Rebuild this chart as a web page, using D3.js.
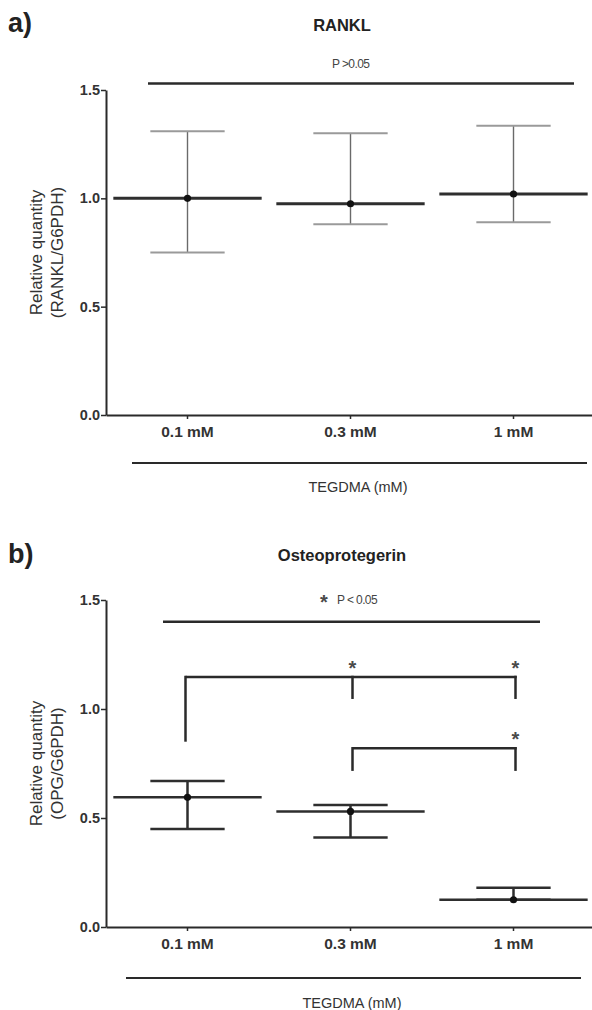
<!DOCTYPE html>
<html>
<head>
<meta charset="utf-8">
<script src="https://cdn.jsdelivr.net/npm/d3@7"></script>
<style>
  html, body { margin: 0; padding: 0; background: #fff; }
  svg { display: block; }
  text { font-family: "Liberation Sans", Arial, Helvetica, sans-serif; }
</style>
</head>
<body>
<svg id="chart" width="592" height="1010"></svg>
<script>
// ---------- data ----------
const categories = ["0.1 mM", "0.3 mM", "1 mM"];
const yTicks = [0.0, 0.5, 1.0, 1.5];

const ranklMean  = [1.00, 0.975, 1.02];
const ranklUpper = [1.31, 1.30, 1.335];
const ranklLower = [0.75, 0.88, 0.89];

const opgMean  = [0.595, 0.53, 0.125];
const opgUpper = [0.67, 0.56, 0.18];
const opgLower = [0.45, 0.41, 0.125];

// significance annotations for OPG (category indices, values in y units)
const opgBrackets = [
  { from: 0, to: 2, y: 1.147, legs: [[0, 0.85], [1, 1.046], [2, 1.046]], stars: [1, 2] },
  { from: 1, to: 2, y: 0.82,  legs: [[1, 0.716], [2, 0.716]], stars: [2] }
];

// ---------- drawing ----------
const svg = d3.select("#chart");
const FONT = '"Liberation Sans", Arial, Helvetica, sans-serif';

function star(g, x, yc) {
  g.append("text").attr("x", x).attr("y", yc + 10).attr("text-anchor", "middle")
    .attr("font-size", 20).attr("font-weight", "bold").attr("fill", "#4a4a4a").text("*");
}

function drawPanel(cfg) {
  const g = svg.append("g");
  const x = d3.scaleBand().domain(categories).range([106, 595]).padding(0);
  const y = d3.scaleLinear().domain([0, 1.5]).range([cfg.bottom, cfg.top]);
  const cx = i => x(categories[i]) + x.bandwidth() / 2;

  // panel letter
  g.append("text").attr("x", 8).attr("y", cfg.letterY)
    .attr("font-size", 27).attr("font-weight", "bold").attr("fill", "#222")
    .text(cfg.letter);
  // title
  g.append("text").attr("x", 342).attr("y", cfg.titleY).attr("text-anchor", "middle")
    .attr("font-size", 16.5).attr("font-weight", "bold").attr("fill", "#222")
    .text(cfg.title);

  // y axis
  const ya = g.append("g").attr("transform", "translate(106,0)")
    .call(d3.axisLeft(y).tickValues(yTicks).tickFormat(d3.format(".1f")).tickSize(5).tickSizeOuter(0));
  ya.select(".domain").attr("stroke", "#2a2a2a").attr("stroke-width", 2);
  ya.selectAll(".tick line").attr("stroke", "#2a2a2a").attr("stroke-width", 1.5);
  ya.selectAll(".tick text").attr("x", -6).attr("font-size", 14.5).attr("font-weight", "bold")
    .attr("fill", "#333").attr("font-family", FONT);

  // x axis
  const xa = g.append("g").attr("transform", `translate(0,${cfg.bottom})`)
    .call(d3.axisBottom(x).tickSize(4).tickSizeOuter(0));
  xa.select(".domain").attr("stroke", "#2a2a2a").attr("stroke-width", 2);
  xa.selectAll(".tick line").attr("stroke", "#2a2a2a").attr("stroke-width", 1.5);
  xa.selectAll(".tick text").attr("y", 22).attr("dy", "0").attr("font-size", 15.5).attr("font-weight", "bold")
    .attr("fill", "#333").attr("font-family", FONT);

  // y label
  const ymid = (cfg.top + cfg.bottom) / 2;
  cfg.yLabel.forEach((t, i) => {
    g.append("text")
      .attr("transform", `translate(${36 + i * 21},${ymid}) rotate(-90)`)
      .attr("text-anchor", "middle").attr("dominant-baseline", "central")
      .attr("font-size", 17).attr("fill", "#333").text(t);
  });

  // overall comparison line and p-value text
  g.append("line").attr("x1", cfg.pLine[0]).attr("x2", cfg.pLine[1])
    .attr("y1", y(cfg.pLineY)).attr("y2", y(cfg.pLineY))
    .attr("stroke", "#2a2a2a").attr("stroke-width", 2.5);
  if (cfg.pStar) star(g, cfg.pStar[0], cfg.pStar[1]);
  g.append("text").attr("x", cfg.pText[0]).attr("y", cfg.pText[1])
    .attr("font-size", 12).attr("letter-spacing", -0.6).attr("fill", "#444").text(cfg.pLabel);

  // group axis line + label
  g.append("line").attr("x1", cfg.grpLine[0]).attr("x2", cfg.grpLine[1])
    .attr("y1", cfg.grpLine[2]).attr("y2", cfg.grpLine[2])
    .attr("stroke", "#2a2a2a").attr("stroke-width", 2);
  g.append("text").attr("x", cfg.grpText[0]).attr("y", cfg.grpText[1]).attr("text-anchor", "middle")
    .attr("font-size", 14.5).attr("fill", "#333").text("TEGDMA (mM)");

  // error bars
  const meanHalf = x.bandwidth() * 0.455, capHalf = x.bandwidth() * 0.228;
  const data = categories.map((c, i) => ({ i, m: cfg.mean[i], u: cfg.upper[i], l: cfg.lower[i] }));
  const eg = g.append("g");
  eg.selectAll(".wh").data(data).join("line")
    .attr("x1", d => cx(d.i)).attr("x2", d => cx(d.i))
    .attr("y1", d => y(d.u)).attr("y2", d => y(d.l))
    .attr("stroke", cfg.whiskerColor).attr("stroke-width", cfg.whiskerW);
  ["u", "l"].forEach(k => {
    eg.selectAll(".cap" + k).data(data).join("line")
      .attr("x1", d => cx(d.i) - capHalf).attr("x2", d => cx(d.i) + capHalf)
      .attr("y1", d => y(d[k])).attr("y2", d => y(d[k]))
      .attr("stroke", cfg.capColor).attr("stroke-width", cfg.capW);
  });
  eg.selectAll(".mean").data(data).join("line")
    .attr("x1", d => cx(d.i) - meanHalf).attr("x2", d => cx(d.i) + meanHalf)
    .attr("y1", d => y(d.m)).attr("y2", d => y(d.m))
    .attr("stroke", "#2e2e2e").attr("stroke-width", cfg.meanW);
  eg.selectAll(".dot").data(data).join("circle")
    .attr("cx", d => cx(d.i)).attr("cy", d => y(d.m)).attr("r", 3.6).attr("fill", "#111");

  // brackets
  (cfg.brackets || []).forEach(b => {
    const off = 2;
    g.append("line").attr("x1", cx(b.from) + (b.from === 0 ? -2 : off)).attr("x2", cx(b.to) + off + 1.2)
      .attr("y1", y(b.y)).attr("y2", y(b.y)).attr("stroke", "#2a2a2a").attr("stroke-width", 2.5);
    b.legs.forEach(([i, end]) => {
      const lx = cx(i) + (i === 0 ? -2 : off);
      g.append("line").attr("x1", lx).attr("x2", lx).attr("y1", y(b.y) - 1.2).attr("y2", y(end))
        .attr("stroke", "#2a2a2a").attr("stroke-width", 2.5);
    });
    b.stars.forEach(i => star(g, cx(i) + off, y(b.y) - 12));
  });
}

drawPanel({
  letter: "a)", letterY: 32, title: "RANKL", titleY: 31,
  top: 90, bottom: 415,
  yLabel: ["Relative quantity", "(RANKL/G6PDH)"],
  pLine: [148, 574], pLineY: 1.53, pText: [332, 68], pLabel: "P >0.05",
  grpLine: [132, 587, 463], grpText: [358, 492],
  mean: ranklMean, upper: ranklUpper, lower: ranklLower,
  whiskerColor: "#6a6a6a", whiskerW: 1.4, capColor: "#9a9a9a", capW: 2, meanW: 3
});

drawPanel({
  letter: "b)", letterY: 563, title: "Osteoprotegerin", titleY: 561,
  top: 600, bottom: 927,
  yLabel: ["Relative quantity", "(OPG/G6PDH)"],
  pLine: [163, 540], pLineY: 1.40, pText: [337, 604], pLabel: "P < 0.05", pStar: [324, 599],
  grpLine: [126, 581, 978], grpText: [352, 1008],
  mean: opgMean, upper: opgUpper, lower: opgLower,
  whiskerColor: "#2e2e2e", whiskerW: 2.5, capColor: "#2e2e2e", capW: 2.5, meanW: 2.5,
  brackets: opgBrackets
});
</script>
</body>
</html>
